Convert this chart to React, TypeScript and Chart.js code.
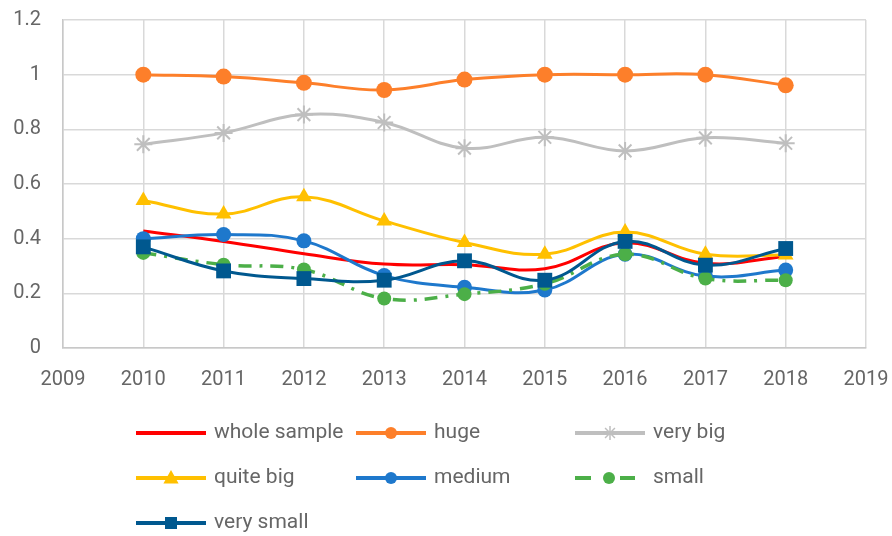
import React, { useEffect, useRef } from "react";
import { Chart, registerables } from "chart.js";

Chart.register(...registerables);

const years = [2010, 2011, 2012, 2013, 2014, 2015, 2016, 2017, 2018];
const wholeSample = [0.428, 0.39, 0.345, 0.307, 0.305, 0.29, 0.385, 0.31, 0.335];
const huge = [1.0, 0.993, 0.97, 0.944, 0.982, 1.0, 1.0, 1.0, 0.961];
const veryBig = [0.745, 0.787, 0.854, 0.825, 0.731, 0.771, 0.721, 0.769, 0.749];
const quiteBig = [0.54, 0.49, 0.553, 0.465, 0.386, 0.343, 0.424, 0.343, 0.34];
const medium = [0.4, 0.415, 0.392, 0.265, 0.222, 0.212, 0.343, 0.263, 0.285];
const small = [0.348, 0.305, 0.287, 0.181, 0.197, 0.235, 0.343, 0.254, 0.248];
const verySmall = [0.37, 0.282, 0.254, 0.248, 0.319, 0.248, 0.39, 0.303, 0.364];

const xTicks = [2009, 2019];
const yTicks = [0, 1.2];

const FONT = "Roboto";
const TEXT = "#666666";
const GRID = "#d9d9d9";

const toPts = (arr: number[]) => arr.map((v, i) => ({ x: years[i], y: v }));

function drawMarker(ctx: CanvasRenderingContext2D, style: string, x: number, y: number, r: number, color: string) {
  ctx.save();
  ctx.fillStyle = color;
  ctx.strokeStyle = color;
  ctx.setLineDash([]);
  ctx.beginPath();
  if (style === "circle") {
    ctx.arc(x, y, r, 0, Math.PI * 2);
    ctx.fill();
  } else if (style === "triangle") {
    ctx.moveTo(x, y - r);
    ctx.lineTo(x + r * 0.95, y + r * 0.7);
    ctx.lineTo(x - r * 0.95, y + r * 0.7);
    ctx.closePath();
    ctx.fill();
  } else if (style === "rect") {
    ctx.rect(x - r, y - r, 2 * r, 2 * r);
    ctx.fill();
  } else if (style === "star") {
    ctx.lineWidth = 1.5;
    for (let k = 0; k < 4; k++) {
      const a = (k * Math.PI) / 4;
      ctx.moveTo(x - Math.cos(a) * r, y - Math.sin(a) * r);
      ctx.lineTo(x + Math.cos(a) * r, y + Math.sin(a) * r);
    }
    ctx.stroke();
  }
  ctx.restore();
}

const legendCols = [136, 356, 575];
const legendRows = [433, 478, 523];

const legendPlugin = {
  id: "customLegend",
  afterDraw(chart: any) {
    const ctx: CanvasRenderingContext2D = chart.ctx;
    chart.data.datasets.forEach((ds: any, i: number) => {
      const col = i % 3;
      const row = Math.floor(i / 3);
      const x0 = legendCols[col];
      const x1 = x0 + 70;
      const y = legendRows[row];
      ctx.save();
      ctx.strokeStyle = ds.borderColor;
      ctx.lineWidth = 4;
      ctx.setLineDash(ds.legendDash || []);
      ctx.beginPath();
      ctx.moveTo(x0, y);
      ctx.lineTo(x1, y);
      ctx.stroke();
      ctx.restore();
      if (ds.pointRadius > 0) {
        const mx = ds.legendMarkerX != null ? x0 + ds.legendMarkerX : (x0 + x1) / 2;
        drawMarker(ctx, ds.pointStyle, mx, y, ds.legendMarker || 6, ds.borderColor);
      }
      ctx.save();
      ctx.fillStyle = TEXT;
      ctx.font = `21px ${FONT}`;
      ctx.textBaseline = "middle";
      ctx.textAlign = "left";
      ctx.fillText(ds.label, x1 + 8, y);
      ctx.restore();
    });
  },
};

export default function App() {
  const ref = useRef<HTMLCanvasElement>(null);
  useEffect(() => {
    if (!ref.current) return;
    const mk = (label: string, data: number[], color: string, extra: any) => ({
      label,
      data: toPts(data),
      borderColor: color,
      backgroundColor: color,
      pointBackgroundColor: color,
      pointBorderColor: color,
      borderWidth: 3,
      tension: 0.4,
      ...extra,
    });
    const datasets = [
      mk("whole sample", wholeSample, "#ff0000", { pointRadius: 0, order: 6 }),
      mk("huge", huge, "#fd7f2a", { pointStyle: "circle", pointRadius: 8, pointBorderWidth: 0, order: 5 }),
      mk("very big", veryBig, "#bfbfbf", { pointStyle: "star", pointRadius: 9, pointBorderWidth: 2, legendMarker: 7, order: 4 }),
      mk("quite big", quiteBig, "#ffc000", { pointStyle: "triangle", pointRadius: 9, pointBorderWidth: 0, legendMarker: 8, order: 3 }),
      mk("medium", medium, "#1e78cc", { pointStyle: "circle", pointRadius: 7.5, pointBorderWidth: 0, order: 2 }),
      mk("small", small, "#4caf48", {
        pointStyle: "circle",
        pointRadius: 7,
        pointBorderWidth: 0,
        borderWidth: 3.5,
        borderDash: [13, 8, 3, 8],
        legendDash: [16, 29, 15, 100],
        legendMarkerX: 34,
        order: 1,
      }),
      mk("very small", verySmall, "#00588f", { pointStyle: "rect", pointRadius: 10.5, pointBorderWidth: 0, order: 0 }),
    ];
    const chart = new Chart(ref.current, {
      type: "line",
      data: { datasets },
      plugins: [legendPlugin],
      options: {
        animation: false,
        responsive: false,
        maintainAspectRatio: false,
        layout: { autoPadding: false, padding: { left: 0, right: 26, top: 20, bottom: 140 } },
        plugins: { legend: { display: false }, tooltip: { enabled: false } },
        scales: {
          x: {
            type: "linear",
            min: xTicks[0],
            max: xTicks[1],
            ticks: {
              stepSize: 1,
              padding: 20,
              color: TEXT,
              font: { family: FONT, size: 20 },
              callback: (v: any) => String(v),
              maxRotation: 0,
            },
            grid: { color: GRID, lineWidth: 1.5, drawTicks: false },
            border: { color: "#c8c8c8", width: 1.5 },
            afterFit: (s: any) => {
              s.height = 48;
              s.paddingLeft = 0;
              s.paddingRight = 0;
            },
          },
          y: {
            min: yTicks[0],
            max: yTicks[1],
            ticks: {
              stepSize: 0.2,
              padding: 22,
              color: TEXT,
              font: { family: FONT, size: 20 },
              callback: (v: any) => String(Number(Number(v).toFixed(1))),
            },
            grid: { color: GRID, lineWidth: 1.5, drawTicks: false },
            border: { color: "#c8c8c8", width: 1.5 },
            afterFit: (s: any) => {
              s.width = 63;
              s.paddingTop = 0;
              s.paddingBottom = 0;
            },
          },
        },
      },
    });
    return () => chart.destroy();
  }, []);
  return (
    <div style={{ position: "absolute", left: 0, top: 0, width: 892, height: 536, background: "#fff" }}>
      <canvas ref={ref} width={892} height={536} style={{ display: "block" }} />
    </div>
  );
}
